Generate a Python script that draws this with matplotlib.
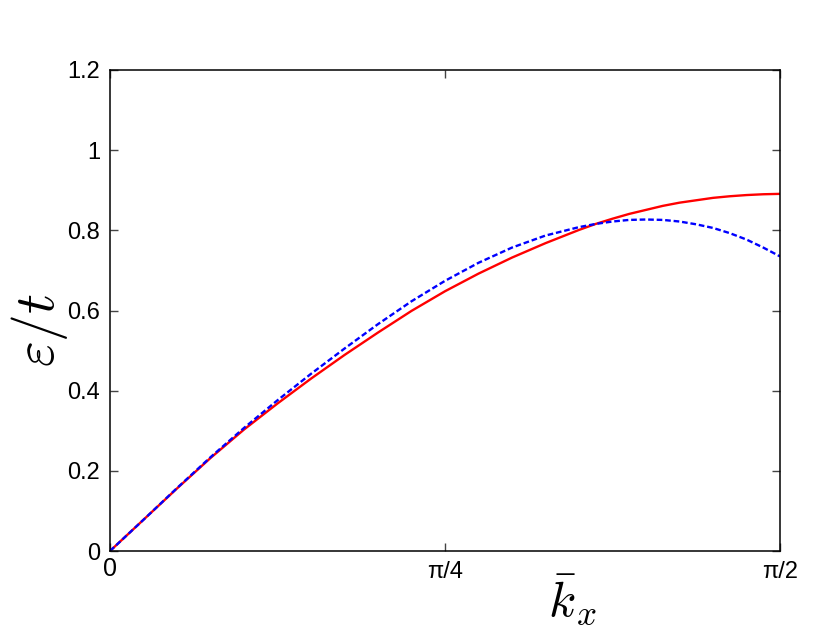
import numpy as np
import matplotlib
matplotlib.use('Agg')
import matplotlib.pyplot as plt

plt.rcParams.update({'font.family': ['Liberation Sans', 'DejaVu Sans'],
                     'mathtext.fontset': 'cm'})

# kx in units of pi/2
kx_frac = [0.0, 0.05, 0.1, 0.15, 0.2, 0.25, 0.3, 0.35, 0.4, 0.45, 0.5,
           0.55, 0.6, 0.65, 0.7, 0.725, 0.75, 0.775, 0.8, 0.825, 0.85,
           0.875, 0.9, 0.925, 0.95, 0.975, 1.0]
# red solid curve
eps_exact = [0.0, 0.078, 0.156, 0.232, 0.303, 0.368, 0.430, 0.489, 0.545,
             0.599, 0.648, 0.692, 0.732, 0.768, 0.801, 0.816, 0.829, 0.841,
             0.851, 0.861, 0.869, 0.875, 0.881, 0.885, 0.888, 0.890, 0.891]
# blue dashed curve
eps_approx = [0.0, 0.078, 0.157, 0.234, 0.307, 0.376, 0.442, 0.505, 0.566,
              0.623, 0.674, 0.719, 0.757, 0.787, 0.808, 0.816, 0.822, 0.826,
              0.827, 0.826, 0.822, 0.815, 0.806, 0.793, 0.777, 0.757, 0.735]

x_ticks = [0, np.pi / 4, np.pi / 2]
x_tick_labels = ['0', 'π/4', 'π/2']
y_ticks = [0, 0.2, 0.4, 0.6, 0.8, 1.0, 1.2]
y_tick_labels = ['0', '0.2', '0.4', '0.6', '0.8', '1', '1.2']

kx = np.array(kx_frac) * np.pi / 2

fig = plt.figure(figsize=(8.3, 6.42), dpi=100)
ax = fig.add_axes([110 / 830, 1 - 551 / 642, 670 / 830, 481 / 642])

ax.plot(kx, eps_exact, color='red', lw=1.7, solid_joinstyle='round')
ax.plot(kx, eps_approx, color='blue', lw=1.7, linestyle=(0, (2.4, 1.2)))

ax.set_xlim(0, np.pi / 2)
ax.set_ylim(0, 1.2)
ax.set_xticks(x_ticks)
ax.set_xticklabels(x_tick_labels)
ax.set_yticks(y_ticks)
ax.set_yticklabels(y_tick_labels, fontsize=17)

for lab in ax.get_xticklabels():
    if lab.get_text() == '0':
        lab.set_fontsize(18)
    else:
        lab.set_fontsize(17)
        lab.set_y(-0.01)

ax.tick_params(direction='in', top=True, right=True, length=6, width=1,
               color='#444444')
ax.tick_params(axis='y', pad=7)
ax.tick_params(axis='x', pad=4)
for sp in ax.spines.values():
    sp.set_linewidth(1.1)

fig.text(40 / 830, 1 - 330 / 642, r'$\varepsilon/t$', fontsize=40,
         rotation=90, ha='center', va='center')
fig.text(572 / 830, 1 - 600 / 642, r'$\bar{k}_x$', fontsize=36,
         ha='center', va='center')

fig.savefig('out.png', dpi=100)
